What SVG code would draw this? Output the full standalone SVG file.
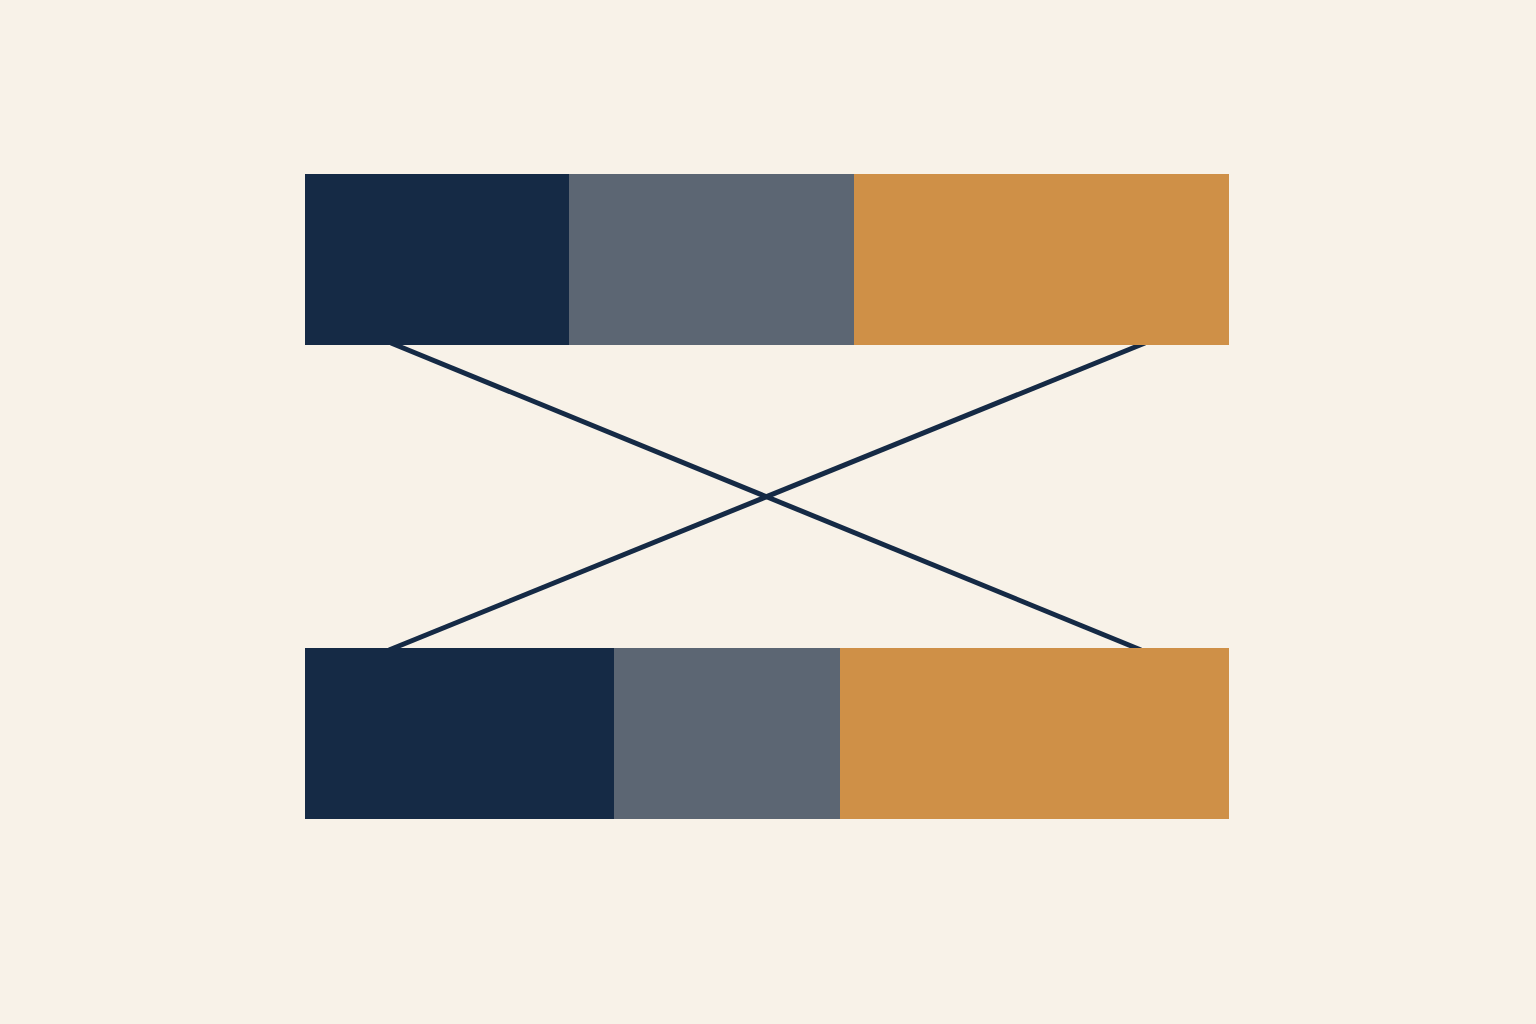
<svg xmlns="http://www.w3.org/2000/svg" width="1536" height="1024" viewBox="0 0 1536 1024">
<style>
.navy{fill:#152a45}
.gray{fill:#5c6673}
.orange{fill:#cf9047}
.conn{stroke:#152a45;stroke-width:5;fill:none}
</style>
<rect width="1536" height="1024" fill="#f8f2e8"/>
<g id="connectors">
<line class="conn" x1="391" y1="343" x2="1141" y2="650"/>
<line class="conn" x1="1145" y1="343" x2="389" y2="650"/>
</g>
<g id="top-bar">
<rect class="navy" x="305" y="174" width="264" height="171"/>
<rect class="gray" x="569" y="174" width="285" height="171"/>
<rect class="orange" x="854" y="174" width="375" height="171"/>
</g>
<g id="bottom-bar">
<rect class="navy" x="305" y="648" width="309" height="171"/>
<rect class="gray" x="614" y="648" width="226" height="171"/>
<rect class="orange" x="840" y="648" width="389" height="171"/>
</g>
</svg>
